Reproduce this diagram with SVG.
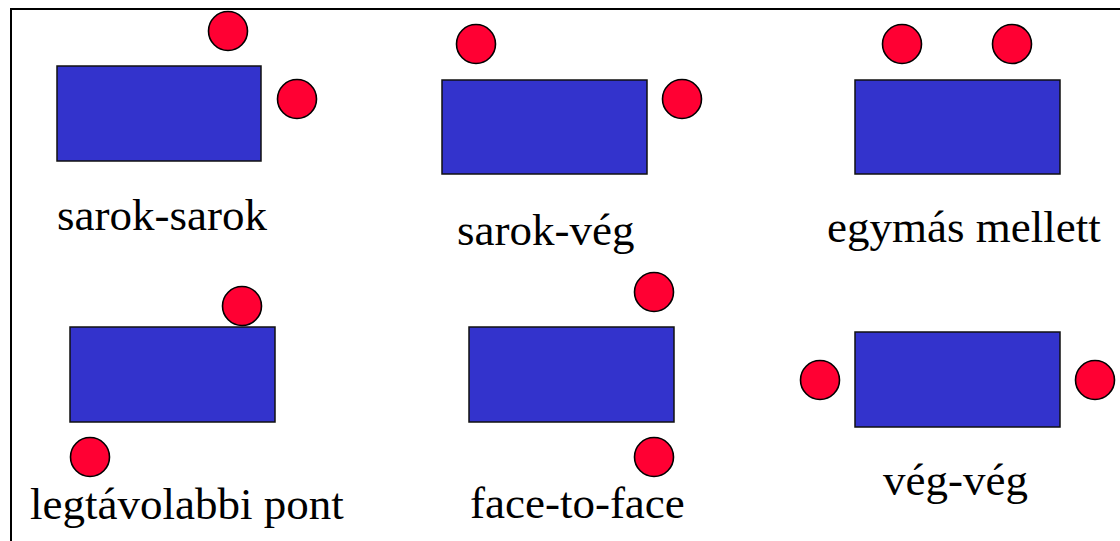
<svg xmlns="http://www.w3.org/2000/svg" width="1120" height="541" viewBox="0 0 1120 541">
  <style>
    .table { fill: #3333CC; stroke: #111111; stroke-width: 1.5; }
    .seat { fill: #FF0033; stroke: #000000; stroke-width: 1.6; }
    .frame { fill: none; stroke: #000000; stroke-width: 2; }
  </style>
  <rect x="0" y="0" width="1120" height="541" fill="#FFFFFF"/>
  <!-- outer frame: open on the right and bottom -->
  <path class="frame" d="M11,541 V9 H1120"/>

  <g font-family="Liberation Serif, DejaVu Serif, serif" font-size="45" fill="#000000">
  <g id="sarok-sarok">
    <rect class="table" x="57" y="66" width="204" height="95"/>
    <circle class="seat" cx="228" cy="31" r="19.5"/>
    <circle class="seat" cx="297" cy="99" r="19.5"/>
    <text x="57" y="230">sarok-sarok</text>
  </g>

  <g id="sarok-veg">
    <rect class="table" x="442" y="80" width="205" height="94"/>
    <circle class="seat" cx="476" cy="44" r="19.5"/>
    <circle class="seat" cx="682" cy="99" r="19.5"/>
    <text x="457" y="245">sarok-vég</text>
  </g>

  <g id="egymas-mellett">
    <rect class="table" x="855" y="80" width="205" height="94"/>
    <circle class="seat" cx="902" cy="44" r="19.5"/>
    <circle class="seat" cx="1012" cy="44" r="19.5"/>
    <text x="827" y="242">egymás mellett</text>
  </g>

  <g id="legtavolabbi-pont">
    <rect class="table" x="70" y="327" width="205" height="95"/>
    <circle class="seat" cx="242" cy="306" r="19.5"/>
    <circle class="seat" cx="90" cy="457" r="19.5"/>
    <text x="30" y="519">legtávolabbi pont</text>
  </g>

  <g id="face-to-face">
    <rect class="table" x="469" y="327" width="205" height="95"/>
    <circle class="seat" cx="654" cy="292" r="19.5"/>
    <circle class="seat" cx="654" cy="457" r="19.5"/>
    <text x="470" y="518">face-to-face</text>
  </g>

  <g id="veg-veg">
    <rect class="table" x="855" y="332" width="205" height="95"/>
    <circle class="seat" cx="820" cy="380" r="19.5"/>
    <circle class="seat" cx="1095" cy="380" r="19.5"/>
    <text x="883" y="495">vég-vég</text>
  </g>
  </g>

  <g id="connectors"/>
</svg>
